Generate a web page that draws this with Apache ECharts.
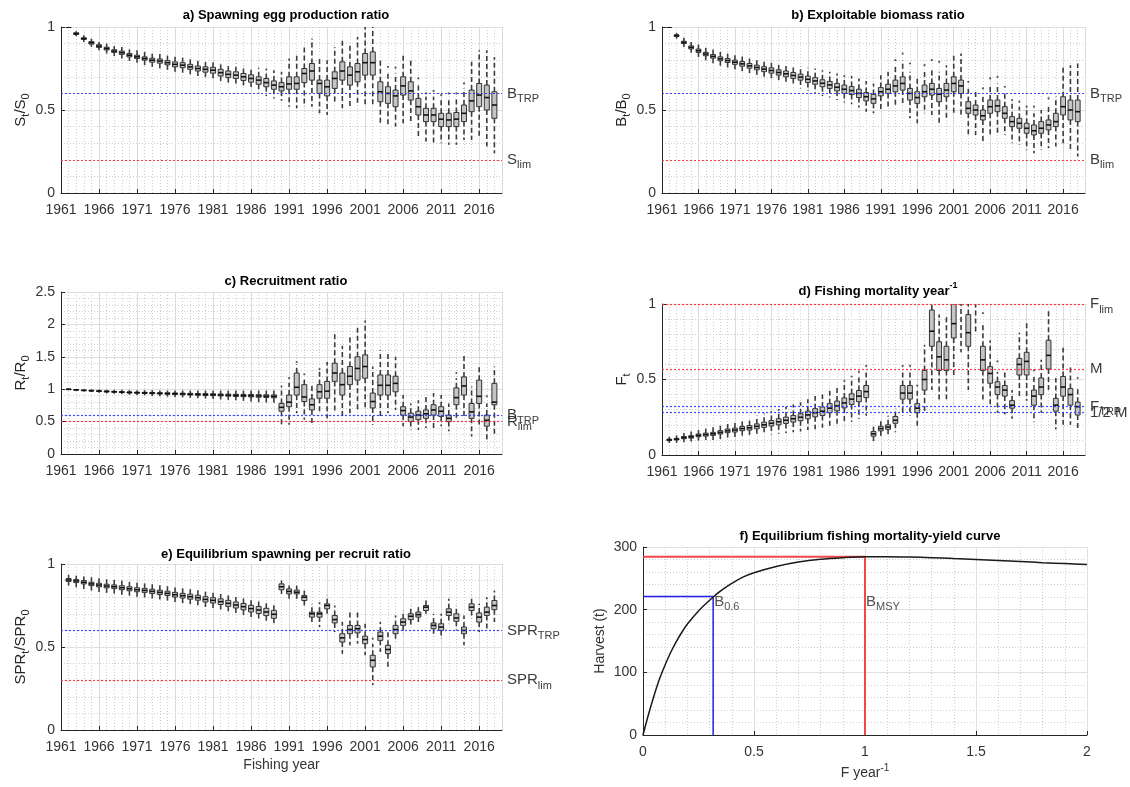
<!DOCTYPE html>
<html><head><meta charset="utf-8">
<script src="https://cdn.jsdelivr.net/npm/echarts@6/dist/echarts.min.js"></script>
<style>html,body{margin:0;padding:0;background:#fff}#c{width:1130px;height:787px}</style>
</head><body><div id="c"></div>
<script>
// ---------------- DATA ----------------
const years = [1962,1963,1964,1965,1966,1967,1968,1969,1970,1971,1972,1973,1974,1975,1976,1977,1978,1979,1980,
1981,1982,1983,1984,1985,1986,1987,1988,1989,1990,1991,1992,1993,1994,1995,1996,1997,1998,1999,2000,
2001,2002,2003,2004,2005,2006,2007,2008,2009,2010,2011,2012,2013,2014,2015,2016,2017,2018];

// each entry: [lower whisker, Q1, median, Q3, upper whisker]
const boxA = [
[1,1,1,1,1],[0.945,0.955,0.96,0.965,0.975],[0.91,0.925,0.93,0.935,0.95],[0.88,0.897,0.905,0.912,0.93],
[0.86,0.877,0.885,0.893,0.91],[0.84,0.862,0.87,0.878,0.90],[0.825,0.847,0.855,0.863,0.885],[0.81,0.835,0.845,0.855,0.88],
[0.795,0.82,0.83,0.84,0.865],[0.785,0.81,0.82,0.83,0.86],[0.77,0.80,0.81,0.82,0.85],[0.76,0.788,0.80,0.812,0.84],
[0.75,0.782,0.795,0.807,0.84],[0.74,0.772,0.785,0.798,0.83],[0.73,0.76,0.775,0.79,0.825],[0.72,0.755,0.77,0.785,0.82],
[0.71,0.745,0.76,0.775,0.81],[0.70,0.735,0.75,0.765,0.805],[0.69,0.728,0.745,0.76,0.80],[0.68,0.722,0.74,0.757,0.80],
[0.665,0.705,0.725,0.745,0.79],[0.655,0.695,0.715,0.735,0.78],[0.645,0.69,0.71,0.73,0.78],[0.63,0.678,0.70,0.72,0.77],
[0.62,0.668,0.69,0.712,0.76],[0.605,0.655,0.68,0.70,0.755],[0.585,0.64,0.665,0.69,0.75],[0.57,0.625,0.65,0.675,0.74],
[0.555,0.615,0.64,0.665,0.73],
[0.52,0.625,0.657,0.70,0.81],[0.51,0.625,0.66,0.70,0.84],[0.52,0.665,0.72,0.75,0.88],[0.52,0.68,0.735,0.78,0.93],
[0.48,0.60,0.66,0.68,0.82],[0.47,0.585,0.64,0.68,0.80],[0.54,0.63,0.69,0.73,0.88],[0.51,0.68,0.735,0.79,0.92],
[0.51,0.65,0.71,0.76,0.90],[0.53,0.67,0.73,0.78,0.94],[0.52,0.71,0.785,0.84,1.0],[0.52,0.71,0.785,0.85,1.0],
[0.41,0.55,0.61,0.67,0.81],[0.41,0.54,0.60,0.64,0.72],[0.40,0.52,0.585,0.62,0.72],[0.42,0.59,0.645,0.70,0.84],
[0.43,0.56,0.615,0.67,0.80],[0.33,0.47,0.52,0.57,0.66],[0.31,0.43,0.47,0.51,0.58],[0.30,0.43,0.47,0.51,0.58],
[0.30,0.40,0.445,0.48,0.56],[0.29,0.40,0.44,0.48,0.56],[0.29,0.40,0.445,0.485,0.57],[0.32,0.43,0.48,0.53,0.63],
[0.32,0.49,0.555,0.62,0.79],[0.34,0.52,0.59,0.66,0.86],[0.28,0.50,0.575,0.65,0.86],[0.24,0.45,0.53,0.61,0.82]];
const outA = [[2004,0.76],[2005,0.755],[2008,0.69],[2009,0.60],[2010,0.615],[2011,0.59],[2012,0.60],[2013,0.60],[2014,0.66]];

const boxB = [
[1,1,1,1,1],[0.93,0.943,0.948,0.953,0.965],[0.88,0.90,0.907,0.914,0.935],[0.845,0.868,0.877,0.886,0.91],
[0.82,0.847,0.857,0.867,0.895],[0.80,0.827,0.837,0.847,0.875],[0.78,0.812,0.823,0.834,0.865],[0.765,0.797,0.808,0.82,0.85],
[0.75,0.786,0.798,0.81,0.845],[0.74,0.775,0.788,0.80,0.835],[0.725,0.764,0.778,0.792,0.83],[0.71,0.752,0.766,0.78,0.82],
[0.70,0.742,0.756,0.77,0.81],[0.69,0.731,0.746,0.761,0.80],[0.68,0.722,0.738,0.754,0.795],[0.665,0.71,0.726,0.742,0.785],
[0.655,0.70,0.718,0.735,0.78],[0.645,0.69,0.708,0.726,0.77],[0.63,0.68,0.698,0.716,0.765],[0.615,0.666,0.685,0.704,0.755],
[0.60,0.655,0.675,0.695,0.75],[0.585,0.64,0.661,0.682,0.74],[0.575,0.63,0.651,0.672,0.73],[0.56,0.615,0.637,0.66,0.72],
[0.545,0.60,0.625,0.65,0.71],[0.535,0.593,0.617,0.641,0.705],[0.515,0.575,0.60,0.625,0.69],[0.49,0.555,0.58,0.605,0.675],
[0.48,0.54,0.567,0.594,0.66],
[0.50,0.585,0.61,0.635,0.71],[0.51,0.60,0.625,0.655,0.73],[0.52,0.61,0.645,0.68,0.76],[0.54,0.62,0.66,0.70,0.80],
[0.45,0.56,0.60,0.63,0.73],[0.42,0.54,0.575,0.61,0.69],[0.48,0.58,0.61,0.65,0.74],[0.47,0.59,0.625,0.66,0.75],
[0.42,0.55,0.595,0.63,0.73],[0.45,0.58,0.62,0.66,0.77],[0.47,0.61,0.66,0.70,0.84],[0.47,0.60,0.645,0.68,0.84],
[0.35,0.48,0.51,0.55,0.63],[0.35,0.47,0.50,0.53,0.61],[0.31,0.44,0.465,0.50,0.58],[0.35,0.48,0.52,0.56,0.65],
[0.36,0.49,0.525,0.56,0.66],[0.35,0.45,0.48,0.52,0.60],[0.30,0.40,0.43,0.46,0.54],[0.29,0.39,0.42,0.45,0.52],
[0.26,0.36,0.39,0.42,0.50],[0.24,0.35,0.375,0.41,0.48],[0.26,0.36,0.39,0.43,0.50],[0.27,0.38,0.41,0.44,0.52],
[0.28,0.40,0.43,0.48,0.58],[0.30,0.47,0.52,0.58,0.77],[0.26,0.44,0.50,0.56,0.77],[0.22,0.43,0.49,0.56,0.78]];
const outB = [[1993,0.80],[1994,0.84],[1995,0.78],[1997,0.77],[1998,0.80],[1999,0.79],[2003,0.67],[2005,0.63],
[2006,0.69],[2007,0.70],[2008,0.64],[2009,0.56],[2010,0.55],[2011,0.52],[2012,0.52],[2014,0.57]];

const boxC = [
[1,1,1,1,1],[0.98,0.987,0.99,0.993,1.0],[0.965,0.978,0.982,0.986,0.995],[0.955,0.972,0.977,0.982,0.995],
[0.945,0.965,0.971,0.977,0.995],[0.935,0.958,0.965,0.972,0.99],[0.93,0.953,0.96,0.967,0.99],[0.925,0.948,0.955,0.962,0.99],
[0.915,0.942,0.95,0.958,0.985],[0.91,0.938,0.946,0.954,0.985],[0.905,0.934,0.943,0.952,0.985],[0.895,0.93,0.94,0.95,0.985],
[0.89,0.926,0.936,0.946,0.98],[0.885,0.922,0.933,0.944,0.98],[0.88,0.918,0.93,0.942,0.98],[0.875,0.915,0.927,0.939,0.98],
[0.865,0.91,0.923,0.936,0.98],[0.86,0.906,0.92,0.934,0.98],[0.855,0.903,0.917,0.931,0.98],[0.85,0.90,0.915,0.93,0.98],
[0.84,0.896,0.911,0.926,0.98],[0.835,0.892,0.908,0.924,0.98],[0.83,0.888,0.905,0.922,0.98],[0.82,0.884,0.902,0.92,0.98],
[0.81,0.88,0.899,0.918,0.98],[0.80,0.876,0.896,0.916,0.98],[0.79,0.872,0.893,0.914,0.98],[0.78,0.868,0.89,0.912,0.98],
[0.43,0.66,0.72,0.78,0.98],[0.45,0.73,0.80,0.91,1.10],[0.63,0.91,1.03,1.25,1.38],[0.53,0.81,0.88,1.07,1.19],
[0.45,0.68,0.76,0.85,1.09],[0.63,0.86,0.96,1.07,1.28],[0.55,0.86,0.97,1.12,1.42],[0.65,1.12,1.25,1.40,1.90],
[0.58,0.91,1.07,1.25,1.67],[0.63,1.07,1.20,1.35,1.80],[0.68,1.14,1.32,1.50,1.97],[0.68,1.17,1.35,1.53,2.06],
[0.45,0.71,0.81,0.94,1.35],[0.58,0.91,1.06,1.22,1.60],[0.63,0.91,1.06,1.22,1.55],[0.68,0.96,1.09,1.20,1.50],
[0.43,0.60,0.67,0.73,0.91],[0.37,0.50,0.57,0.63,0.78],[0.37,0.53,0.60,0.66,0.83],[0.40,0.55,0.62,0.68,0.91],
[0.40,0.60,0.68,0.76,0.94],[0.43,0.58,0.66,0.73,0.91],[0.35,0.50,0.55,0.60,0.78],[0.53,0.76,0.87,1.02,1.17],
[0.58,0.91,1.05,1.19,1.53],[0.27,0.55,0.65,0.78,1.04],[0.43,0.78,0.89,1.14,1.37],[0.22,0.43,0.52,0.60,0.78],
[0.30,0.76,0.80,1.09,1.35]];
const outC = [[1990,1.04],[1991,1.17],[1992,1.42],[1993,1.23],[1995,1.31],[2013,1.25],[2017,0.89]];

const boxD = [
[0.08,0.095,0.10,0.105,0.12],[0.08,0.10,0.105,0.11,0.13],[0.085,0.108,0.115,0.122,0.145],[0.09,0.112,0.12,0.128,0.155],
[0.095,0.121,0.13,0.139,0.165],[0.10,0.125,0.135,0.145,0.175],[0.10,0.13,0.14,0.15,0.185],[0.105,0.139,0.15,0.161,0.20],
[0.11,0.148,0.16,0.172,0.21],[0.115,0.152,0.165,0.178,0.22],[0.12,0.161,0.175,0.189,0.235],[0.12,0.165,0.18,0.195,0.245],
[0.125,0.174,0.19,0.206,0.26],[0.13,0.183,0.20,0.217,0.275],[0.135,0.192,0.21,0.228,0.29],[0.14,0.20,0.22,0.24,0.305],
[0.145,0.209,0.23,0.251,0.32],[0.15,0.218,0.24,0.262,0.335],[0.155,0.227,0.25,0.273,0.35],[0.165,0.24,0.265,0.29,0.37],
[0.17,0.253,0.28,0.307,0.39],[0.18,0.262,0.29,0.318,0.40],[0.19,0.28,0.31,0.34,0.43],[0.20,0.293,0.325,0.357,0.45],
[0.21,0.312,0.345,0.378,0.47],[0.22,0.335,0.37,0.405,0.50],[0.24,0.353,0.39,0.427,0.53],[0.26,0.38,0.42,0.46,0.56],
[0.09,0.125,0.14,0.155,0.20],[0.12,0.16,0.175,0.19,0.24],[0.13,0.17,0.185,0.20,0.26],[0.15,0.21,0.23,0.255,0.31],
[0.26,0.37,0.41,0.46,0.56],[0.26,0.37,0.41,0.46,0.56],[0.19,0.28,0.31,0.34,0.43],[0.29,0.43,0.50,0.56,0.73],
[0.43,0.72,0.82,0.96,1.10],[0.36,0.56,0.65,0.75,0.93],[0.37,0.56,0.63,0.72,0.93],[0.52,0.775,0.87,1.0,1.15],
[0.68,1.02,1.15,1.30,1.50],[0.43,0.72,0.81,0.93,1.10],[0.80,1.01,1.08,1.20,1.40],[0.36,0.56,0.63,0.72,0.87],
[0.32,0.475,0.54,0.585,0.76],[0.28,0.40,0.45,0.485,0.55],[0.27,0.39,0.43,0.46,0.55],[0.24,0.31,0.33,0.36,0.43],
[0.39,0.53,0.60,0.64,0.81],[0.36,0.53,0.62,0.68,0.89],[0.22,0.33,0.39,0.43,0.53],[0.28,0.40,0.45,0.51,0.63],
[0.43,0.57,0.66,0.76,0.96],[0.17,0.29,0.33,0.375,0.51],[0.20,0.39,0.45,0.52,0.71],[0.20,0.33,0.40,0.44,0.60],
[0.16,0.265,0.32,0.35,0.45]];
const outD = [[1986,0.49],[1987,0.52],[1988,0.55],[1989,0.59],[1994,0.59],[1995,0.59],[1996,0.46],[2005,0.94],[2007,0.62],[2012,0.56],[2018,0.51]];

const boxE = [
[0.87,0.895,0.904,0.912,0.935],[0.86,0.888,0.898,0.907,0.93],[0.85,0.88,0.89,0.90,0.925],[0.84,0.87,0.88,0.89,0.92],
[0.83,0.862,0.873,0.884,0.915],[0.825,0.856,0.867,0.878,0.91],[0.82,0.852,0.863,0.874,0.905],[0.81,0.845,0.857,0.869,0.90],
[0.805,0.839,0.851,0.863,0.895],[0.80,0.833,0.845,0.857,0.89],[0.79,0.829,0.841,0.853,0.885],[0.785,0.822,0.835,0.848,0.88],
[0.78,0.816,0.829,0.842,0.875],[0.77,0.81,0.823,0.836,0.87],[0.76,0.801,0.815,0.829,0.865],[0.755,0.795,0.809,0.823,0.86],
[0.745,0.788,0.803,0.818,0.855],[0.74,0.782,0.797,0.812,0.85],[0.73,0.771,0.787,0.803,0.84],[0.72,0.765,0.781,0.797,0.835],
[0.71,0.756,0.773,0.79,0.83],[0.70,0.745,0.763,0.781,0.825],[0.69,0.735,0.753,0.771,0.815],[0.68,0.724,0.743,0.762,0.805],
[0.665,0.711,0.731,0.751,0.795],[0.655,0.702,0.723,0.744,0.785],[0.64,0.689,0.711,0.733,0.775],[0.63,0.673,0.697,0.721,0.765],
[0.82,0.845,0.863,0.88,0.90],[0.79,0.82,0.835,0.85,0.87],[0.78,0.82,0.83,0.843,0.87],[0.75,0.78,0.80,0.81,0.84],
[0.64,0.68,0.70,0.71,0.76],[0.62,0.68,0.70,0.71,0.77],[0.69,0.73,0.75,0.76,0.81],[0.59,0.645,0.665,0.69,0.75],
[0.46,0.53,0.555,0.58,0.65],[0.51,0.58,0.605,0.63,0.71],[0.52,0.585,0.61,0.63,0.71],[0.45,0.52,0.545,0.565,0.64],
[0.27,0.38,0.42,0.45,0.52],[0.47,0.54,0.565,0.59,0.65],[0.38,0.46,0.485,0.51,0.59],[0.53,0.58,0.605,0.63,0.69],
[0.58,0.63,0.65,0.67,0.72],[0.62,0.665,0.685,0.70,0.75],[0.64,0.68,0.695,0.71,0.75],[0.70,0.72,0.74,0.75,0.78],
[0.56,0.61,0.63,0.645,0.70],[0.55,0.60,0.62,0.64,0.70],[0.64,0.69,0.71,0.73,0.79],[0.60,0.655,0.675,0.70,0.75],
[0.51,0.58,0.60,0.62,0.69],[0.67,0.72,0.74,0.76,0.81],[0.59,0.65,0.68,0.705,0.76],[0.61,0.69,0.71,0.74,0.80],
[0.65,0.725,0.75,0.78,0.84]];
const outE = [[2002,0.55]];

// reference lines (value, label, kind)
const refA = [0.6, 0.2], refLabA = ['B_TRP', 'S_lim'], refKindA = ['target', 'limit'];
const refB = [0.6, 0.2], refLabB = ['B_TRP', 'B_lim'], refKindB = ['target', 'limit'];
const refC = [0.6, 0.5], refLabC = ['B_TRP', 'R_lim'], refKindC = ['target', 'limit'];
const refD = [1.0, 0.57, 0.315, 0.285], refLabD = ['F_lim', 'M', 'F_TRP', '1/2 M'], refKindD = ['limit', 'limit', 'target', 'target'];
const refE = [0.6, 0.3], refLabE = ['SPR_TRP', 'SPR_lim'], refKindE = ['target', 'limit'];

// panel f: equilibrium yield curve
const fMort = [0,0.025,0.05,0.075,0.1,0.125,0.15,0.175,0.2,0.25,0.3,0.35,0.4,0.45,0.5,0.6,0.7,0.8,0.9,1.0,1.1,1.2,1.3,1.4,1.5,1.6,1.7,1.8,1.9,2.0];
const harvest = [0,33,63,90,112,132,149,164,177,198,215,230,242,252,259,269,276,280.5,283,284.5,284.5,284,283,281.5,280,278.5,277,275,273.5,272];
const fMSY = 1.0, yMSY = 284.5;
const f06 = 0.316, y06 = 221;

// ---------------- STYLE / LAYOUT ----------------
const FONT = '"Liberation Sans", Arial, Helvetica, sans-serif';
const AX = '#262626', LAB = '#333333';
const MAJ = '#e0e0e0', MIN = '#cfcfcf';
const nameRich = {
  b: {fontSize: 15, lineHeight: 22, color: AX, fontFamily: FONT},
  s: {fontSize: 11, lineHeight: 11, verticalAlign: 'bottom', color: AX, fontFamily: FONT},
  p: {fontSize: 10, lineHeight: 10, verticalAlign: 'top', color: AX, fontFamily: FONT}
};
const titleRich = {
  t: {fontSize: 13, fontWeight: 'bold', lineHeight: 20, color: '#000', fontFamily: FONT},
  p: {fontSize: 9, fontWeight: 'bold', lineHeight: 9, verticalAlign: 'top', color: '#000', fontFamily: FONT}
};
function toRich(s) {
  const i = s.indexOf('_');
  return i < 0 ? '{b|' + s + '}' : '{b|' + s.slice(0, i) + '}{s|' + s.slice(i + 1) + '}';
}

const grids = [
  {left: 61, top: 27, width: 441, height: 166},
  {left: 662, top: 27, width: 423, height: 166},
  {left: 61, top: 292, width: 441, height: 162},
  {left: 662, top: 304, width: 423, height: 151},
  {left: 61, top: 564, width: 441, height: 166},
  {left: 643, top: 547, width: 444, height: 188}
];

const xAxes = [], yAxes = [], series = [];

function yAxis(gi, max, interval, name, gap) {
  return {gridIndex: gi, type: 'value', min: 0, max: max, interval: interval,
    name: name, nameLocation: 'middle', nameGap: gap,
    nameTextStyle: {color: AX, fontFamily: FONT, fontSize: 15, rich: nameRich},
    axisLine: {show: true, lineStyle: {color: AX}},
    axisTick: {show: true, inside: true, length: 4, lineStyle: {color: AX}},
    axisLabel: {color: LAB, fontSize: 14, fontFamily: FONT, margin: 6},
    splitLine: {show: true, lineStyle: {color: MAJ}},
    minorTick: {show: false, splitNumber: 5},
    minorSplitLine: {show: true, lineStyle: {color: MIN, type: [1, 2]}}};
}
function yearAxes(gi, name) {
  xAxes.push({gridIndex: gi, type: 'value', min: 1961, max: 2019, interval: 5, position: 'bottom',
    name: name || '', nameLocation: 'middle', nameGap: 28,
    nameTextStyle: {color: LAB, fontFamily: FONT, fontSize: 14},
    axisLine: {onZero: false, lineStyle: {color: AX}},
    axisTick: {inside: true, length: 4, lineStyle: {color: AX}},
    axisLabel: {color: LAB, fontSize: 14, fontFamily: FONT, margin: 10, showMaxLabel: false,
      formatter: v => (v > 2016 ? '' : String(v))},
    splitLine: {show: true, lineStyle: {color: MAJ}}});
  xAxes.push({gridIndex: gi, type: 'value', min: 1961, max: 2019, interval: 1, position: 'top',
    axisLine: {show: false}, axisTick: {show: false}, axisLabel: {show: false},
    splitLine: {show: true, lineStyle: {color: MIN, type: [1, 2]}}});
}

function renderBox(params, api) {
  const x = api.value(0);
  const p = [1, 2, 3, 4, 5].map(i => api.coord([x, api.value(i)]));
  const w = api.size([1, 0])[0] * 0.66;
  const cx = p[0][0];
  const wst = {stroke: '#3c3c3c', lineWidth: 1.6, lineDash: [5, 3]};
  return {type: 'group', children: [
    {type: 'line', shape: {x1: cx, y1: p[1][1], x2: cx, y2: p[0][1]}, style: wst},
    {type: 'line', shape: {x1: cx, y1: p[3][1], x2: cx, y2: p[4][1]}, style: wst},
    {type: 'rect', shape: {x: cx - w / 2, y: p[3][1], width: w, height: Math.max(p[1][1] - p[3][1], 0.5)},
      style: {fill: '#c4c4c4', stroke: '#333', lineWidth: 1}},
    {type: 'line', shape: {x1: cx - w / 2, y1: p[2][1], x2: cx + w / 2, y2: p[2][1]},
      style: {stroke: '#111', lineWidth: 1.6}}
  ]};
}

const boxPanels = [
  {box: boxA, out: outA, ref: refA, lab: refLabA, kind: refKindA, max: 1, iv: 0.5, name: '{b|S}{s|t}{b|/S}{s|0}', gap: 28},
  {box: boxB, out: outB, ref: refB, lab: refLabB, kind: refKindB, max: 1, iv: 0.5, name: '{b|B}{s|t}{b|/B}{s|0}', gap: 28},
  {box: boxC, out: outC, ref: refC, lab: refLabC, kind: refKindC, max: 2.5, iv: 0.5, name: '{b|R}{s|t}{b|/R}{s|0}', gap: 28},
  {box: boxD, out: outD, ref: refD, lab: refLabD, kind: refKindD, max: 1, iv: 0.5, name: '{b|F}{s|t}', gap: 28},
  {box: boxE, out: outE, ref: refE, lab: refLabE, kind: refKindE, max: 1, iv: 0.5, name: '{b|SPR}{s|t}{b|/SPR}{s|0}', gap: 28}
];

boxPanels.forEach((P, gi) => {
  yearAxes(gi, gi === 4 ? 'Fishing year' : '');
  yAxes.push(yAxis(gi, P.max, P.iv, P.name, P.gap));
  const xi = gi * 2;
  series.push({type: 'line', xAxisIndex: xi, yAxisIndex: gi, data: [], silent: true, z: 1,
    markLine: {silent: true, symbol: ['none', 'none'], animation: false,
      label: {show: true, position: 'end', distance: 5, rich: nameRich},
      data: P.ref.map((v, k) => ({yAxis: v,
        lineStyle: {color: P.kind[k] === 'target' ? '#3434ff' : '#ff2a2a', type: [2, 2], width: 1.2, opacity: 0.9},
        label: {formatter: toRich(P.lab[k])}}))}});
  series.push({type: 'custom', xAxisIndex: xi, yAxisIndex: gi, clip: true, renderItem: renderBox, z: 3,
    encode: {x: 0, y: [1, 2, 3, 4, 5]},
    data: years.map((yr, k) => [yr].concat(P.box[k]))});
  series.push({type: 'scatter', xAxisIndex: xi, yAxisIndex: gi, symbolSize: 2.2, z: 3,
    itemStyle: {color: '#333'}, data: P.out});
});

// panel f
xAxes.push({gridIndex: 5, type: 'value', min: 0, max: 2, interval: 0.5,
  name: '{b|F year}{p|-1}', nameLocation: 'middle', nameGap: 28,
  nameTextStyle: {rich: {b: {fontSize: 14, lineHeight: 20, color: LAB, fontFamily: FONT},
    p: {fontSize: 10, lineHeight: 10, verticalAlign: 'top', color: LAB, fontFamily: FONT}}},
  axisLine: {onZero: false, lineStyle: {color: AX}},
  axisTick: {inside: true, length: 4, lineStyle: {color: AX}},
  axisLabel: {color: LAB, fontSize: 14, fontFamily: FONT, margin: 10},
  splitLine: {show: true, lineStyle: {color: MAJ}},
  minorTick: {show: false, splitNumber: 5},
  minorSplitLine: {show: true, lineStyle: {color: MIN, type: [1, 2]}}});
yAxes.push(Object.assign(yAxis(5, 300, 100, 'Harvest (t)', 36),
  {nameTextStyle: {color: LAB, fontFamily: FONT, fontSize: 14}}));
const fx = 10;
series.push({type: 'line', xAxisIndex: fx, yAxisIndex: 5, showSymbol: false, smooth: 0.3,
  lineStyle: {color: '#1a1a1a', width: 1.5}, data: fMort.map((f, i) => [f, harvest[i]]), z: 3});
series.push({type: 'line', xAxisIndex: fx, yAxisIndex: 5, showSymbol: false,
  lineStyle: {color: '#f04848', width: 2}, data: [[0, yMSY], [fMSY, yMSY], [fMSY, 0]], z: 2});
series.push({type: 'line', xAxisIndex: fx, yAxisIndex: 5, showSymbol: false,
  lineStyle: {color: '#2020f0', width: 1.5}, data: [[0, y06], [f06, y06], [f06, 0]], z: 2});
series.push({type: 'scatter', xAxisIndex: fx, yAxisIndex: 5, symbolSize: 0, silent: true,
  label: {show: true, position: 'right', distance: 1, offset: [0, 5], rich: nameRich,
    formatter: p => toRich(p.data[2])},
  data: [[f06, y06, 'B_0.6'], [fMSY, y06, 'B_MSY']]});

const titles = [
  ['{t|a) Spawning egg production ratio}', 281, 0],
  ['{t|b) Exploitable biomass ratio}', 873, 0],
  ['{t|c) Recruitment ratio}', 281, 266],
  ['{t|d) Fishing mortality year}{p|-1}', 873, 276],
  ['{t|e) Equilibrium spawning per recruit ratio}', 281, 539],
  ['{t|f) Equilibrium fishing mortality-yield curve}', 865, 521]
].map(t => ({text: t[0], left: t[1], top: t[2], textAlign: 'center',
  textStyle: {rich: titleRich, fontFamily: FONT}}));

const chart = echarts.init(document.getElementById('c'), null, {renderer: 'canvas'});
chart.setOption({
  animation: false,
  backgroundColor: '#fff',
  title: titles,
  grid: grids,
  xAxis: xAxes,
  yAxis: yAxes,
  series: series
});
</script>
</body></html>
